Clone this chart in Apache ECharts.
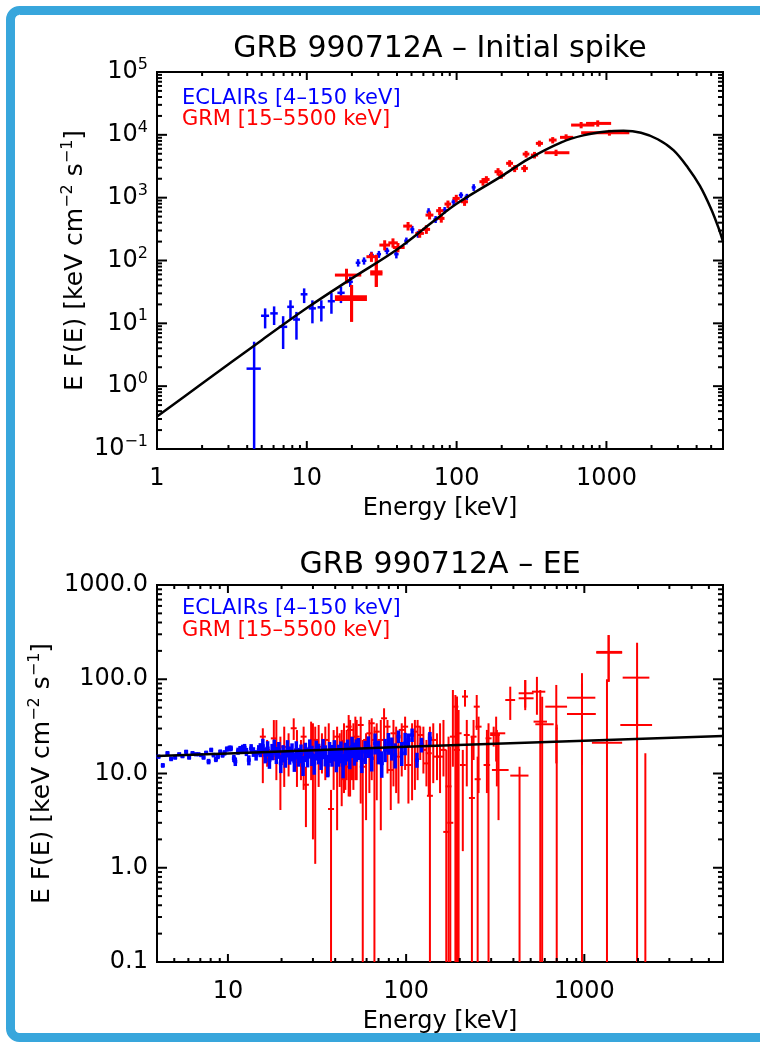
<!DOCTYPE html>
<html>
<head>
<meta charset="utf-8">
<script src="https://cdn.jsdelivr.net/npm/echarts@6/dist/echarts.min.js"></script>
<style>
  html, body { margin: 0; padding: 0; background: #fff; }
  #chart { width: 760px; height: 1042px; }
</style>
</head>
<body>
<div id="chart"></div>
<script>
/*
 * GRB 990712A spectra (ECLAIRs + GRM), nuFnu plots
 */

var FONT = "DejaVu Sans";
var BLUE = "#0000ff";
var RED = "#ff0000";
var NAME_ECL = "ECLAIRs [4–150 keV]";
var NAME_GRM = "GRM [15–5500 keV]";

/////////////// Initial spike ////////////////////////
// [E, Elo, Ehi, EF, EFlo, EFhi]
var spikeEclairs = [
  [4.45, 3.96, 4.93, 1.9, 0.01, 5.1],
  [5.27, 4.95, 5.6, 13.2, 8.3, 17.3],
  [6.05, 5.7, 6.4, 14.4, 9.4, 18.6],
  [6.95, 6.5, 7.4, 8.8, 3.9, 13.0],
  [7.78, 7.4, 8.2, 18.3, 11.8, 23.3],
  [8.53, 8.1, 9.0, 11.5, 5.5, 15.2],
  [9.6, 9.1, 10.1, 29, 21, 36],
  [10.9, 10.3, 11.5, 17.3, 10, 23.2],
  [12.5, 11.8, 13.2, 18, 10.7, 23.3],
  [14.6, 13.8, 15.4, 22.5, 14.2, 30.3],
  [16.9, 16.0, 17.9, 30.6, 21, 38.6],
  [19.5, 18.8, 20.3, 45.8, 38, 55],
  [22.0, 21.2, 22.8, 92, 80, 105],
  [24.1, 23.3, 25.0, 99, 86, 112],
  [27.0, 26.0, 28.0, 122, 106, 138],
  [30.3, 29.3, 31.3, 126, 110, 142],
  [34.3, 33.0, 35.5, 143, 125, 160],
  [39.6, 38.3, 41.0, 126, 108, 144],
  [46.2, 44.7, 47.7, 206, 180, 232],
  [50.6, 49.0, 52.2, 313, 270, 355],
  [55.2, 53.5, 57.0, 263, 230, 296],
  [65.0, 63.0, 67.0, 597, 520, 680],
  [72.4, 70.0, 74.8, 451, 395, 510],
  [83.2, 80.5, 86.0, 634, 560, 710],
  [95.5, 92.5, 98.5, 861, 760, 960],
  [107, 103.5, 110.5, 1099, 980, 1220],
  [117, 113, 121, 1035, 920, 1150],
  [130, 126, 134, 1459, 1280, 1640]
];

var spikeGrm = [
  [18.4, 15.4, 23.1, 58.6, 43, 74],
  [19.9, 15.4, 25.2, 26.4, 10.6, 40.7],
  [19.9, 15.4, 25.2, 24, 10.6, 40.7],
  [29.1, 26.5, 32.0, 66, 38, 123],
  [29.1, 26.5, 32.0, 61, 38, 123],
  [27, 25, 29, 115, 95, 135],
  [33.1, 30.5, 36, 176, 145, 210],
  [37.6, 35, 40.5, 191, 160, 225],
  [40.6, 37.5, 45, 161, 135, 190],
  [47.4, 44, 50.5, 353, 300, 410],
  [56.7, 53, 60.5, 270, 230, 315],
  [62.8, 59, 66.5, 313, 265, 365],
  [66, 62, 70, 528, 450, 600],
  [77, 73, 81.5, 620, 530, 710],
  [79, 75, 83, 468, 400, 540],
  [87.5, 83, 92, 791, 680, 900],
  [99.5, 94, 105, 973, 840, 1110],
  [113, 107, 119, 861, 740, 990],
  [150, 142, 158, 1796, 1550, 2050],
  [158, 150, 166, 1950, 1700, 2200],
  [189, 179, 199, 2590, 2250, 2950],
  [199, 189, 210, 2290, 2000, 2600],
  [226, 214, 238, 3520, 3100, 3950],
  [244, 232, 257, 2925, 2550, 3300],
  [284, 270, 299, 2925, 2550, 3300],
  [291, 276, 306, 4940, 4350, 5550],
  [331, 313, 350, 4760, 4200, 5350],
  [357, 338, 377, 7310, 6500, 8100],
  [438, 413, 465, 8260, 7300, 9200],
  [461, 386, 566, 5190, 4600, 5800],
  [538, 490, 600, 9120, 8100, 10200],
  [678, 581, 832, 14300, 12700, 16000],
  [875, 731, 1075, 15200, 13500, 17000],
  [1047, 678, 1422, 10800, 9700, 12000]
];

// best fit model, [E, EF]
var spikeModel = [
  [1, 0.33], [2, 1.1], [5, 5.4], [10, 17.5], [20, 52], [40, 150],
  [70, 420], [100, 800], [200, 2200], [300, 4100], [500, 7600],
  [700, 9800], [1000, 11300], [1300, 11600], [1700, 10800], [2200, 8500],
  [2800, 5700], [3500, 3000], [4200, 1550], [5000, 660], [5600, 330], [6000, 200]
];

/////////////// Extended emission ////////////////////////
// [E, EF, EFlo, EFhi]
var eeEclairs = [
  [4.08, 15.1, 14.3, 15.9], [4.31, 12.2, 11.5, 12.9], [4.58, 16.4, 15.5, 17.3],
  [4.80, 14.3, 13.5, 15.1], [5.06, 14.8, 14.0, 15.6], [5.33, 16.0, 15.2, 16.8],
  [5.56, 15.3, 14.5, 16.1], [5.83, 17.0, 16.1, 17.9], [6.06, 14.8, 14.0, 15.6],
  [6.33, 16.4, 15.5, 17.3], [6.61, 16.0, 15.2, 16.8], [6.84, 16.0, 15.2, 16.8],
  [7.08, 15.7, 14.9, 16.5], [7.30, 14.8, 14.0, 15.6], [7.55, 16.6, 15.7, 17.5],
  [7.79, 13.4, 12.5, 14.3], [8.06, 17.8, 16.8, 18.8], [8.31, 15.7, 14.8, 16.6],
  [8.56, 14.1, 13.2, 15.0], [8.79, 15.1, 14.2, 16.0], [9.06, 17.0, 16.0, 18.0],
  [9.33, 15.7, 14.7, 16.7], [9.58, 16.6, 15.5, 17.7], [9.87, 18.2, 17.0, 19.4],
  [10.2, 18.5, 17.2, 19.8], [10.4, 18.5, 17.2, 19.8], [10.8, 14.5, 13.2, 15.8],
  [11.0, 13.4, 12.0, 14.8], [11.4, 17.3, 15.8, 18.8], [11.7, 18.0, 16.4, 19.6],
  [12.1, 18.5, 16.8, 20.2], [12.4, 18.8, 17.0, 20.6], [12.7, 17.0, 15.3, 18.7],
  [13.1, 13.9, 12.2, 15.6], [13.5, 18.5, 16.5, 20.5], [13.9, 17.0, 15.0, 19.0],
  [14.4, 15.7, 13.7, 17.7], [14.9, 17.8, 15.6, 20.0],
  [15.2, 17.8, 14.9, 21.0], [15.7, 19.6, 16.2, 23.4], [16.2, 15.7, 12.8, 18.9],
  [16.7, 18.5, 15.1, 22.0], [17.1, 13.9, 11.2, 16.8], [17.7, 17.0, 13.8, 20.6],
  [18.2, 19.2, 15.9, 22.9], [18.7, 15.7, 12.6, 19.1], [19.3, 17.8, 14.3, 21.6],
  [19.8, 12.8, 10.1, 15.8], [20.4, 16.4, 13.1, 20.0], [21.0, 14.5, 11.5, 17.8],
  [21.6, 18.5, 14.8, 22.6], [22.2, 15.7, 12.4, 19.3], [22.9, 17.0, 13.4, 20.9],
  [23.6, 13.4, 10.4, 16.7], [24.2, 17.8, 14.0, 22.0], [24.9, 15.1, 11.8, 18.7],
  [25.7, 16.4, 12.8, 20.3], [26.4, 12.3, 9.4, 15.4], [27.2, 17.0, 13.2, 21.2],
  [28.0, 15.1, 11.6, 18.9], [28.8, 18.5, 14.4, 23.0], [29.6, 15.7, 12.0, 19.7],
  [30.5, 12.8, 9.7, 16.2], [31.3, 17.8, 13.7, 22.3], [32.3, 16.4, 12.5, 20.7],
  [33.3, 14.5, 10.9, 18.4], [34.2, 18.5, 14.2, 23.2], [35.2, 15.7, 11.9, 19.9],
  [36.3, 12.3, 9.1, 15.8], [37.2, 17.0, 12.9, 21.6], [38.4, 15.7, 11.8, 20.1],
  [39.6, 17.8, 13.6, 22.6], [40.6, 13.9, 10.3, 17.9], [41.8, 15.7, 11.8, 20.2],
  [43.1, 17.0, 12.8, 21.9], [44.3, 12.3, 8.9, 16.1], [45.6, 16.4, 12.2, 21.2],
  [47.0, 17.8, 13.4, 22.9], [48.3, 15.1, 11.1, 19.6], [49.7, 19.2, 14.6, 24.5],
  [51.3, 16.4, 12.1, 21.3], [52.6, 17.8, 13.3, 23.0], [54.0, 18.5, 13.9, 23.8],
  [56.4, 13.9, 10.1, 18.3], [58.9, 17.0, 12.6, 22.2], [61.4, 19.3, 14.6, 24.8],
  [64.1, 14.5, 10.5, 19.1], [67.0, 20.9, 15.9, 26.6], [69.9, 17.0, 12.5, 22.3],
  [73.0, 12.8, 9.0, 17.2], [76.2, 17.8, 13.2, 23.3], [79.6, 20.9, 15.8, 26.9],
  [83.1, 18.5, 13.7, 24.1], [86.8, 15.7, 11.3, 20.9], [90.6, 24.6, 21.0, 28.6],
  [94.5, 16.4, 12.0, 21.6], [98.7, 20.9, 15.6, 27.0], [103, 22.7, 19.2, 26.6],
  [108, 25.6, 21.6, 30.0], [115, 13.9, 11.5, 16.6], [122, 20.1, 16.7, 23.9],
  [136, 23.6, 20.0, 27.6]
];

// narrow GRM bins, [E, EF, EFlo, EFhi]
var eeGrm = [
  [15.7, 24.6, 7.9, 30.2], [16.6, 17.8, 11.8, 22.7], [18.1, 23.6, 13.9, 36.9],
  [18.7, 17.8, 8.5, 36.9], [19.7, 16.4, 4.1, 24.6], [20.7, 19.2, 7.2, 31.4],
  [21.9, 17.8, 9.3, 26.7], [23.4, 30.2, 22.7, 38.5], [24.4, 17.8, 7.2, 28.9],
  [25.7, 15.7, 8.5, 22.7], [26.6, 24.6, 6.7, 31.4], [27.4, 7.6, 2.7, 11.8],
  [29.3, 17.8, 8.5, 35.5], [30.0, 22.7, 2.0, 34.1], [30.9, 22.7, 1.1, 31.4],
  [32.3, 19.2, 7.2, 32.7], [33.7, 17.8, 10.0, 26.7], [35.2, 22.7, 8.5, 31.4],
  [36.8, 15.1, 9.3, 34.1], [37.9, 4.2, 0.01, 6.7], [39.2, 19.2, 6.7, 28.9],
  [41.0, 24.6, 2.5, 31.4], [42.4, 17.8, 7.2, 26.7], [43.7, 13.9, 8.5, 22.7],
  [45.6, 11.8, 6.7, 20.9], [47.6, 31.4, 5.7, 41.7], [49.7, 17.8, 8.5, 24.6],
  [51.9, 15.1, 8.5, 40.1], [43.5, 16.4, 4.5, 29.0], [44.8, 19.3, 6.2, 34.1],
  [46.4, 13.9, 8.5, 29.0], [48.5, 29.0, 5.7, 37.0], [50.6, 19.3, 6.7, 34.1],
  [52.8, 24.6, 8.5, 37.0], [55.6, 32.7, 4.8, 40.1], [57.1, 11.8, 0.01, 22.7],
  [59.6, 22.7, 3.2, 26.7], [62.2, 26.7, 6.2, 37.0], [64.1, 34.1, 8.5, 38.5],
  [66.4, 22.7, 0.01, 31.4], [68.4, 27.8, 5.2, 34.1], [72.1, 22.7, 2.5, 37.0],
  [75.2, 38.5, 19.3, 49.2], [78.6, 31.4, 10.0, 37.0], [82.0, 10.9, 4.1, 19.3],
  [84.9, 26.7, 7.3, 37.0], [87.9, 19.3, 6.2, 31.4], [90.6, 15.1, 4.8, 24.6],
  [94.5, 29.0, 9.3, 34.1], [98.7, 31.4, 10.9, 40.1], [103, 12.3, 4.8, 20.9],
  [108, 25.6, 5.2, 34.1], [112, 27.8, 6.7, 37.0], [116, 31.4, 8.5, 37.0],
  [120, 25.6, 13.9, 31.4], [125, 17.8, 10.0, 31.4], [130, 12.8, 7.3, 22.7],
  [134, 16.4, 5.9, 26.7], [136, 5.8, 0.01, 31.4], [142, 22.7, 7.9, 34.1],
  [149, 15.1, 8.5, 26.7], [155, 15.1, 6.2, 34.1], [162, 17.8, 9.3, 37.0],
  [168, 2.4, 0.01, 17.8], [173, 7.3, 0.01, 24.6], [177, 3.0, 0.01, 19.3],
  [183, 24.6, 11.8, 76.9], [189, 51.2, 0.01, 68.1], [193, 17.8, 0.01, 65.5],
  [197, 26.7, 0.01, 47.2], [208, 12.3, 1.5, 17.8], [214, 65.5, 51.2, 76.9],
  [219, 25.6, 7.3, 37.0], [234, 5.5, 0.01, 24.6], [239, 24.6, 13.9, 37.0],
  [249, 51.2, 29.0, 68.1], [252, 8.7, 0.01, 15.1], [255, 31.4, 6.2, 40.1],
  [290, 23.6, 0.01, 34.1], [323, 25.6, 7.3, 29.0]
];

// wide GRM bins, [E, Elo, Ehi, EF, EFlo, EFhi]
var eeGrmWide = [
  [284, 272, 296, 12.3, 6.2, 29.0],
  [310, 296, 324, 25.6, 19.3, 31.4],
  [320, 296, 360, 26.7, 13.4, 40.1],
  [330, 303, 376, 10.9, 3.2, 26.7],
  [384, 360, 409, 60.2, 37.0, 83.4],
  [433, 384, 486, 9.5, 0.01, 11.8],
  [466, 428, 519, 71, 50, 98],
  [466, 428, 519, 62.8, 47, 98],
  [542, 508, 604, 73.8, 42, 106],
  [566, 519, 617, 35.5, 0.01, 76.9],
  [580, 531, 673, 33.3, 0.01, 65.3],
  [696, 604, 800, 51.2, 12.8, 87],
  [700, 690, 710, 30, 0.01, 33],
  [970, 799, 1153, 63.7, 12.3, 116],
  [970, 799, 1160, 42.8, 0.01, 90.6],
  [1369, 1167, 1630, 191, 94, 294],
  [1369, 1167, 1630, 195, 94, 294],
  [1340, 1103, 1630, 21.2, 0.01, 100],
  [1977, 1641, 2317, 104, 32.7, 244],
  [1977, 1592, 2400, 32.7, 0.01, 104],
  [2200, 2200, 2200, 10, 0.01, 16.4]
];

var eeModel = [[4, 15.3], [10, 16.3], [100, 19.2], [1000, 22.3], [6000, 25]];

// axis ranges and major ticks
var spikeX = [1, 6000];
var spikeY = [0.1, 100000];
var eeX = [4, 6000];
var eeY = [0.1, 1000];
var spikeXMajor = [1, 10, 100, 1000];
var spikeYMajor = [0.1, 1, 10, 100, 1000, 10000, 100000];
var eeXMajor = [10, 100, 1000];
var eeYMajor = [0.1, 1, 10, 100, 1000];

/////////////// helpers ////////////////////////
function minorTicks(decades, min, max) {
  var out = [];
  decades.forEach(function (d) {
    for (var m = 2; m <= 9; m++) {
      var v = d * m;
      if (v > min && v < max) out.push(v);
    }
  });
  return out;
}

function isPow10(v) {
  var l = Math.log10(v);
  return Math.abs(l - Math.round(l)) < 1e-6;
}

function clamp(v, a, b) {
  return Math.max(a, Math.min(b, v));
}

function seg(x1, y1, x2, y2, color, w) {
  return { type: "line", shape: { x1: x1, y1: y1, x2: x2, y2: y2 }, style: { stroke: color, lineWidth: w } };
}

// error cross with explicit energy bin
function crossItem(color, w) {
  return function (params, api) {
    var cs = params.coordSys;
    var e = api.value(0), f = api.value(3);
    var l = api.coord([api.value(1), f]);
    var r = api.coord([api.value(2), f]);
    var t = api.coord([e, api.value(5)]);
    var b = api.coord([e, api.value(4)]);
    var x0 = cs.x, x1 = cs.x + cs.width, y0 = cs.y, y1 = cs.y + cs.height;
    var kids = [seg(clamp(t[0], x0, x1), clamp(t[1], y0, y1), clamp(t[0], x0, x1), clamp(b[1], y0, y1), color, w)];
    if (r[0] - l[0] > 0.5) kids.push(seg(clamp(l[0], x0, x1), l[1], clamp(r[0], x0, x1), r[1], color, w));
    return { type: "group", children: kids };
  };
}

// error bar with narrow bin (fixed half width in px)
function barItem(color, w, half, minLen) {
  return function (params, api) {
    var cs = params.coordSys;
    var e = api.value(0);
    var c = api.coord([e, api.value(1)]);
    var b = api.coord([e, api.value(2)]);
    var t = api.coord([e, api.value(3)]);
    var y0 = cs.y, y1 = cs.y + cs.height;
    var top = clamp(Math.min(t[1], c[1] - minLen), y0, y1);
    var bot = clamp(Math.max(b[1], c[1] + minLen), y0, y1);
    return {
      type: "group",
      children: [seg(c[0], top, c[0], bot, color, w), seg(c[0] - half, c[1], c[0] + half, c[1], color, w)]
    };
  };
}

function tickSeries(idx, values, dir, len, ref) {
  return {
    type: "custom", xAxisIndex: idx, yAxisIndex: idx, silent: true, z: 10,
    data: values.map(function (v) { return dir === "x" ? [v, ref] : [ref, v]; }),
    renderItem: function (params, api) {
      var cs = params.coordSys;
      var p = api.coord([api.value(0), api.value(1)]);
      if (dir === "x") {
        return { type: "group", children: [
          seg(p[0], cs.y + cs.height, p[0], cs.y + cs.height - len, "#000", 2),
          seg(p[0], cs.y, p[0], cs.y + len, "#000", 2)
        ] };
      }
      return { type: "group", children: [
        seg(cs.x, p[1], cs.x + len, p[1], "#000", 2),
        seg(cs.x + cs.width, p[1], cs.x + cs.width - len, p[1], "#000", 2)
      ] };
    }
  };
}

var supRich = { sup: { fontSize: 16, fontFamily: FONT, color: "#000", verticalAlign: "top", lineHeight: 14 } };

function xAxisOpt(idx, range) {
  return {
    type: "log", logBase: 10, gridIndex: idx, min: range[0], max: range[1],
    name: "Energy [keV]", nameLocation: "middle", nameGap: 48, nameMoveOverlap: false,
    nameTextStyle: { fontFamily: FONT, fontSize: 24, color: "#000" },
    axisLine: { show: false }, axisTick: { show: false }, splitLine: { show: false },
    axisLabel: {
      margin: 18, fontFamily: FONT, fontSize: 24, color: "#000",
      formatter: function (v) { return isPow10(v) ? String(Math.round(v)) : ""; }
    }
  };
}

function yAxisOpt(idx, range, gap, fmt) {
  return {
    type: "log", logBase: 10, gridIndex: idx, min: range[0], max: range[1],
    name: "E F(E) [keV cm{sup|−2} s{sup|−1}]", nameLocation: "middle", nameGap: gap, nameRotate: 90,
    nameMoveOverlap: false,
    nameTextStyle: { fontFamily: FONT, fontSize: 25, color: "#000", lineHeight: 30, rich: supRich },
    axisLine: { show: false }, axisTick: { show: false }, splitLine: { show: false },
    axisLabel: { margin: 9, fontFamily: FONT, fontSize: 24, color: "#000", lineHeight: 30, rich: supRich, formatter: fmt }
  };
}

/////////////// chart ////////////////////////
var chart = echarts.init(document.getElementById("chart"), null, { renderer: "canvas" });

var option = {
  animation: false,
  backgroundColor: "#fff",
  textStyle: { fontFamily: FONT },
  title: [
    { text: "GRB 990712A – Initial spike", left: 440, top: 34, textAlign: "center", padding: 0,
      textStyle: { fontFamily: FONT, fontSize: 30, fontWeight: "normal", color: "#000" } },
    { text: "GRB 990712A – EE", left: 440, top: 550, textAlign: "center", padding: 0,
      textStyle: { fontFamily: FONT, fontSize: 30, fontWeight: "normal", color: "#000" } }
  ],
  legend: [
    { left: 177, top: 88, orient: "vertical", itemGap: 0, itemWidth: 0, itemHeight: 0, padding: 0,
      selectedMode: false, textStyle: { fontFamily: FONT, fontSize: 21, lineHeight: 20 },
      data: [{ name: NAME_ECL, icon: "none", textStyle: { color: BLUE } },
             { name: NAME_GRM, icon: "none", textStyle: { color: RED } }] },
    { left: 177, top: 598, orient: "vertical", itemGap: 1, itemWidth: 0, itemHeight: 0, padding: 0,
      selectedMode: false, textStyle: { fontFamily: FONT, fontSize: 21, lineHeight: 21 },
      data: [{ name: NAME_ECL, icon: "none", textStyle: { color: BLUE } },
             { name: NAME_GRM, icon: "none", textStyle: { color: RED } }] }
  ],
  grid: [
    { left: 157, top: 72, width: 566, height: 377, show: true, borderColor: "#000", borderWidth: 2, backgroundColor: "transparent" },
    { left: 157, top: 585, width: 566, height: 377, show: true, borderColor: "#000", borderWidth: 2, backgroundColor: "transparent" }
  ],
  xAxis: [xAxisOpt(0, spikeX), xAxisOpt(1, eeX)],
  yAxis: [
    yAxisOpt(0, spikeY, 67, function (v) {
      if (!isPow10(v)) return "";
      var p = Math.round(Math.log10(v));
      return "10{sup|" + (p < 0 ? "−" + (-p) : p) + "}";
    }),
    yAxisOpt(1, eeY, 100, function (v) { return isPow10(v) ? v.toFixed(1) : ""; })
  ],
  graphic: [
    { type: "rect", silent: true, z: -10, shape: { x: 10.5, y: 10.5, width: 800, height: 1027, r: 9 },
      style: { fill: "none", stroke: "#38a6dc", lineWidth: 9 } }
  ],
  series: [
    { name: NAME_ECL, type: "custom", xAxisIndex: 0, yAxisIndex: 0, z: 2,
      encode: { x: [0, 1, 2], y: [3, 4, 5] }, data: spikeEclairs, renderItem: crossItem(BLUE, 2.5) },
    { name: NAME_GRM, type: "custom", xAxisIndex: 0, yAxisIndex: 0, z: 3,
      encode: { x: [0, 1, 2], y: [3, 4, 5] }, data: spikeGrm, renderItem: crossItem(RED, 3) },
    { name: "model", type: "line", xAxisIndex: 0, yAxisIndex: 0, z: 4, data: spikeModel,
      smooth: 0.35, showSymbol: false, symbol: "none", lineStyle: { color: "#000", width: 2.5 } },

    { name: NAME_GRM, type: "custom", xAxisIndex: 1, yAxisIndex: 1, z: 2,
      encode: { x: 0, y: [1, 2, 3] }, data: eeGrm, renderItem: barItem(RED, 2, 3, 1) },
    { name: NAME_GRM, type: "custom", xAxisIndex: 1, yAxisIndex: 1, z: 2,
      encode: { x: [0, 1, 2], y: [3, 4, 5] }, data: eeGrmWide, renderItem: crossItem(RED, 2) },
    { name: NAME_ECL, type: "custom", xAxisIndex: 1, yAxisIndex: 1, z: 3,
      encode: { x: 0, y: [1, 2, 3] }, data: eeEclairs, renderItem: barItem(BLUE, 3.5, 2, 2) },
    { name: "model", type: "line", xAxisIndex: 1, yAxisIndex: 1, z: 4, data: eeModel,
      showSymbol: false, symbol: "none", lineStyle: { color: "#000", width: 2.5 } },

    tickSeries(0, spikeXMajor, "x", 8, 1),
    tickSeries(0, minorTicks(spikeXMajor, spikeX[0], spikeX[1]), "x", 4, 1),
    tickSeries(0, spikeYMajor, "y", 10, 2),
    tickSeries(0, minorTicks(spikeYMajor, spikeY[0], spikeY[1]), "y", 5, 2),
    tickSeries(1, eeXMajor, "x", 8, 1),
    tickSeries(1, minorTicks([1].concat(eeXMajor), eeX[0], eeX[1]), "x", 4, 1),
    tickSeries(1, eeYMajor, "y", 10, 5),
    tickSeries(1, minorTicks(eeYMajor, eeY[0], eeY[1]), "y", 5, 5)
  ]
};

chart.setOption(option);
</script>
</body>
</html>
